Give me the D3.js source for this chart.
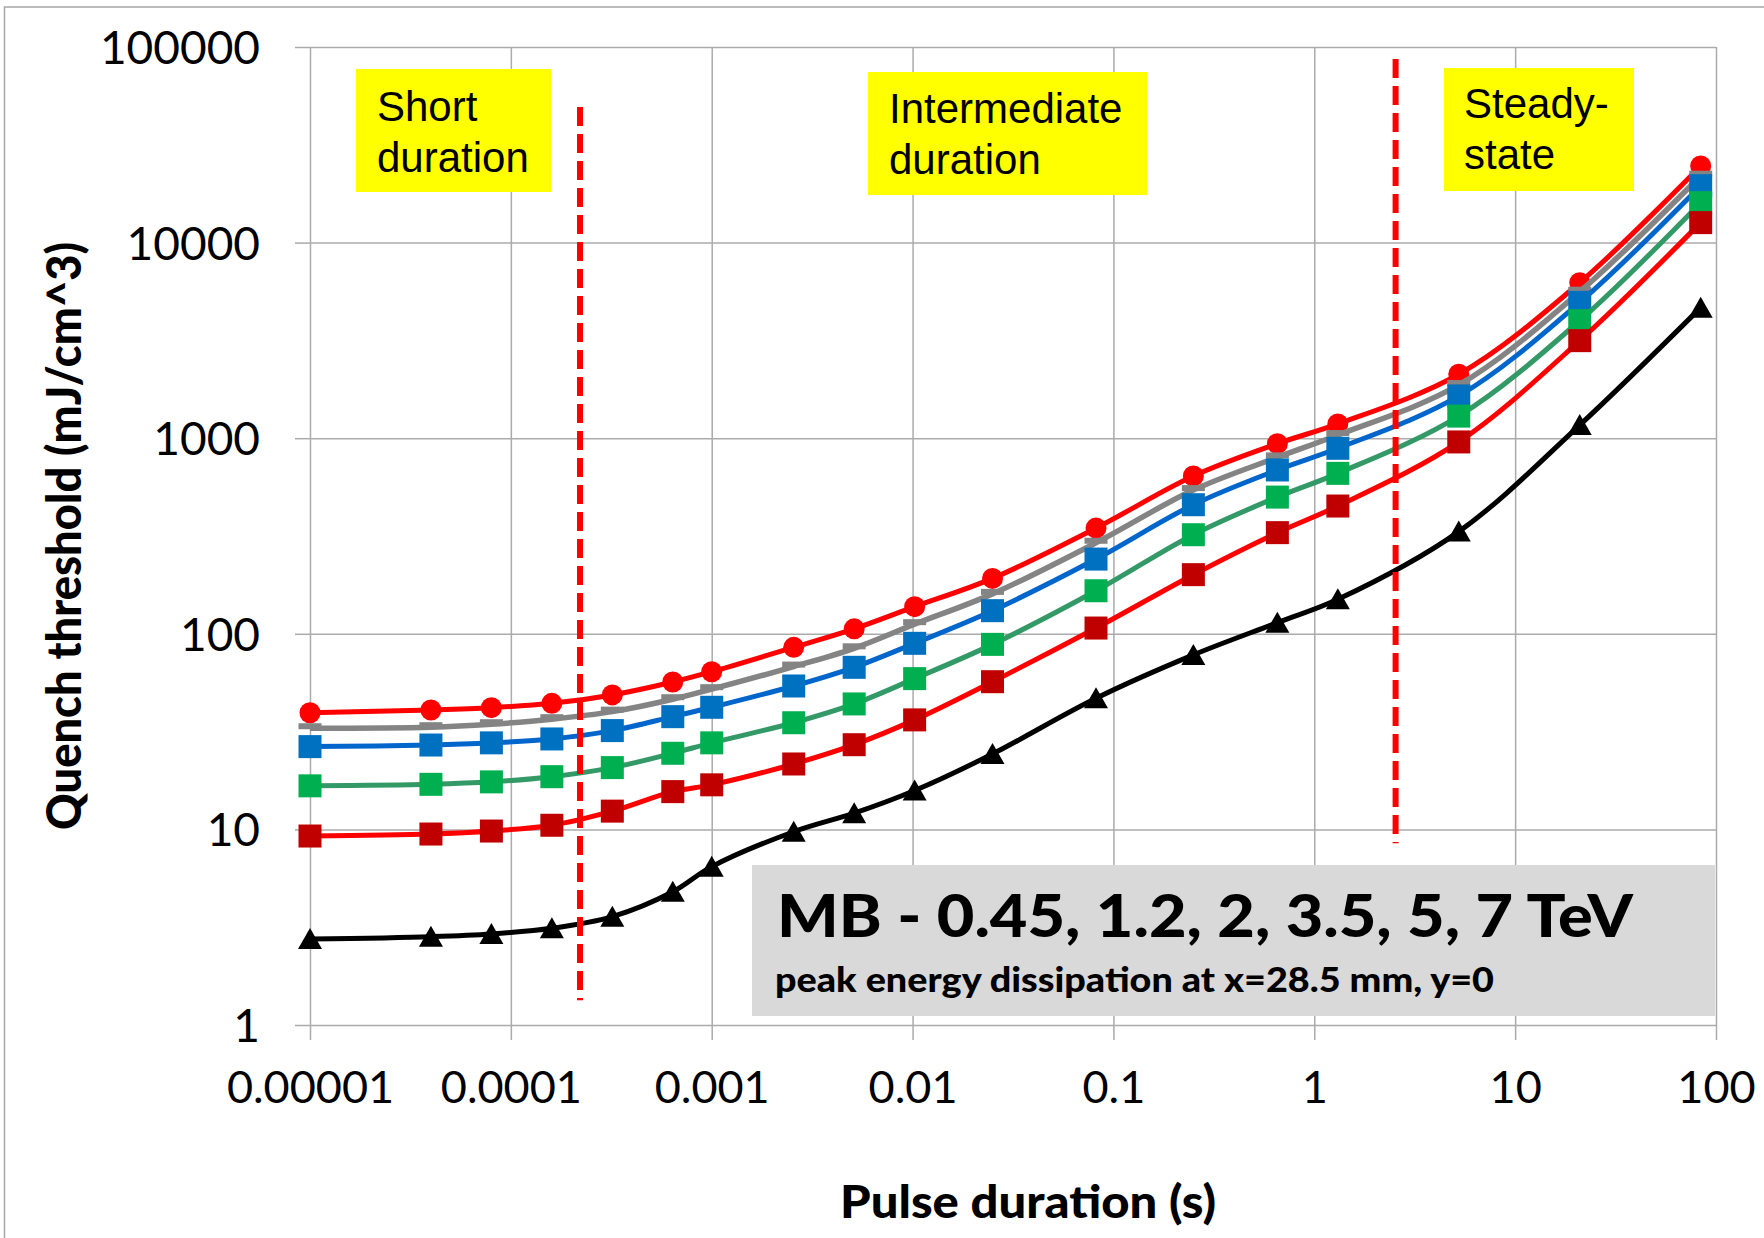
<!DOCTYPE html>
<html>
<head>
<meta charset="utf-8">
<script src="https://cdn.jsdelivr.net/npm/d3@7"></script>
<style>
  body { margin: 0; background: #fff; }
  svg { display: block; }
</style>
</head>
<body>
<script>
// pulse durations (s)
const durations = [1e-5, 4e-5, 8e-5, 1.6e-4, 3.2e-4, 6.4e-4, 1e-3, 2.56e-3, 5.12e-3, 1.024e-2,
    2.5e-2, 8.19e-2, 0.25, 0.655, 1.31, 5.24, 20.97, 83.9];

// quench thresholds (mJ/cm^3), one list per beam energy
const q045 = [39.5, 40.8, 41.9, 44.1, 48.7, 56.7, 64.0, 85.3, 106, 137.6, 192, 347, 641, 938, 1183, 2122, 6240, 24650];
const q12 = [32.9, 33.3, 34.5, 36.6, 40.0, 46.3, 52.1, 68, 84.3, 112, 160, 292, 543, 798, 1038, 1871, 5610, 21980];
const q2 = [26.5, 27.0, 27.7, 29.0, 32.0, 37.7, 42.1, 54.1, 67.4, 89.4, 131.3, 241, 457, 688, 888, 1644, 4950, 19540];
const q35 = [16.7, 17.0, 17.5, 18.6, 20.7, 24.5, 27.7, 35.1, 43.8, 59, 88.3, 166, 321, 500, 661, 1297, 3990, 16000];
const q5 = [9.25, 9.47, 9.81, 10.5, 12.4, 15.6, 16.9, 21.6, 27.1, 36.3, 56.9, 107, 200.6, 329, 450, 957, 3153, 12650];
const q7 = [2.75, 2.83, 2.92, 3.12, 3.58, 4.80, 6.45, 9.73, 12.1, 15.8, 24.3, 46.8, 78, 114, 150, 333, 1167, 4650];

const energies = ['0.45 TeV', '1.2 TeV', '2 TeV', '3.5 TeV', '5 TeV', '7 TeV'];

// axis ticks
const xTicks = [1e-5, 1e-4, 1e-3, 1e-2, 0.1, 1, 10, 100];
const xTickLabels = ['0.00001', '0.0001', '0.001', '0.01', '0.1', '1', '10', '100'];
const yTicks = [1, 10, 100, 1000, 10000, 100000];
const yTickLabels = ['1', '10', '100', '1000', '10000', '100000'];

// regime boundaries: duration, lower and upper threshold of the dashed line
const boundaryX = [2.21e-4, 2.54];
const boundaryLow = [1.34, 8.5];
const boundaryHigh = [49300, 86900];

const regimeLabels = [['Short', 'duration'], ['Intermediate', 'duration'], ['Steady-', 'state']];
const noteTitle = 'MB - 0.45, 1.2, 2, 3.5, 5, 7 TeV';
const noteText = 'peak energy dissipation at x=28.5 mm, y=0';

// layout
const W = 1764, H = 1238;
const dims = { left: 310, right: 1716, top: 47, bottom: 1025 };

const svg = d3.select('body')
    .append('svg')
    .attr('width', W)
    .attr('height', H);

svg.append('rect')
    .attr('width', W).attr('height', H)
    .attr('fill', '#fff');

// chart area border (right / bottom run off the page)
svg.append('rect')
    .attr('x', 4.5).attr('y', 7)
    .attr('width', W + 50).attr('height', H + 50)
    .attr('fill', 'none')
    .attr('stroke', '#a6a6a6')
    .attr('stroke-width', 1.5);

const x = d3.scaleLog()
    .domain([1e-5, 100])
    .range([dims.left, dims.right]);

const y = d3.scaleLog()
    .domain([1, 100000])
    .range([dims.bottom, dims.top]);

// gridlines
const gridColor = '#ababab';

svg.append('g')
    .attr('transform', `translate(0,${dims.bottom})`)
    .call(d3.axisBottom(x).tickValues(xTicks).tickFormat('').tickSizeOuter(0)
        .tickSizeInner(-(dims.bottom - dims.top)))
    .call(g => g.select('.domain').remove())
    .call(g => g.selectAll('line').attr('stroke', gridColor).attr('stroke-width', 1.5));

svg.append('g')
    .attr('transform', `translate(${dims.left},0)`)
    .call(d3.axisLeft(y).tickValues(yTicks).tickFormat('').tickSizeOuter(0)
        .tickSizeInner(-(dims.right - dims.left)))
    .call(g => g.select('.domain').remove())
    .call(g => g.selectAll('line').attr('stroke', gridColor).attr('stroke-width', 1.5));

// axes with tick marks and labels
const tickFont = 'Lato, Carlito, Calibri, sans-serif';

svg.append('g')
    .attr('transform', `translate(0,${dims.bottom})`)
    .call(d3.axisBottom(x).tickValues(xTicks).tickSizeOuter(0).tickSizeInner(15)
        .tickFormat((d, i) => xTickLabels[i]))
    .call(g => g.select('.domain').remove())
    .call(g => g.selectAll('line').attr('stroke', gridColor).attr('stroke-width', 1.5))
    .call(g => g.selectAll('text')
        .attr('y', 78).attr('dy', 0)
        .attr('fill', '#000')
        .style('font-family', tickFont)
        .style('font-size', '45px'));

svg.append('g')
    .attr('transform', `translate(${dims.left},0)`)
    .call(d3.axisLeft(y).tickValues(yTicks).tickSizeOuter(0).tickSizeInner(15)
        .tickFormat((d, i) => yTickLabels[i]))
    .call(g => g.select('.domain').remove())
    .call(g => g.selectAll('line').attr('stroke', gridColor).attr('stroke-width', 1.5))
    .call(g => g.selectAll('text')
        .attr('x', -50).attr('dy', '0.36em')
        .attr('fill', '#000')
        .style('font-family', tickFont)
        .style('font-size', '46px'));

// axis titles
svg.append('text')
    .attr('transform', 'translate(81,536) rotate(-90)')
    .attr('text-anchor', 'middle')
    .attr('textLength', 588)
    .attr('lengthAdjust', 'spacingAndGlyphs')
    .style('font-family', tickFont)
    .style('font-weight', '900')
    .style('font-size', '48px')
    .text('Quench threshold (mJ/cm^3)');

svg.append('text')
    .attr('x', 1028).attr('y', 1218)
    .attr('text-anchor', 'middle')
    .attr('textLength', 376)
    .attr('lengthAdjust', 'spacingAndGlyphs')
    .style('font-family', tickFont)
    .style('font-weight', '900')
    .style('font-size', '45px')
    .text('Pulse duration (s)');

// annotation box
svg.append('rect')
    .attr('x', 752).attr('y', 865)
    .attr('width', 963).attr('height', 151)
    .attr('fill', '#d9d9d9');

svg.append('text')
    .attr('x', 777).attr('y', 937)
    .attr('textLength', 856)
    .attr('lengthAdjust', 'spacingAndGlyphs')
    .style('font-family', tickFont)
    .style('font-weight', '900')
    .style('font-size', '59px')
    .text(noteTitle);

svg.append('text')
    .attr('x', 775).attr('y', 992)
    .attr('textLength', 719)
    .attr('lengthAdjust', 'spacingAndGlyphs')
    .style('font-family', tickFont)
    .style('font-weight', '900')
    .style('font-size', '35px')
    .text(noteText);

// regime labels
const labelBoxes = [
    { x: 356, y: 69, w: 195, h: 123, tx: 377, ty: 121 },
    { x: 868, y: 72, w: 279, h: 123, tx: 889, ty: 123 },
    { x: 1444, y: 68, w: 190, h: 123, tx: 1464, ty: 118 }
];

labelBoxes.forEach((b, i) => {
    svg.append('rect')
        .attr('x', b.x).attr('y', b.y)
        .attr('width', b.w).attr('height', b.h)
        .attr('fill', '#ffff00');
    svg.append('text')
        .style('font-family', '"Liberation Sans", Arial, sans-serif')
        .style('font-size', '42px')
        .selectAll('tspan')
        .data(regimeLabels[i])
        .enter()
        .append('tspan')
        .attr('x', b.tx)
        .attr('y', (d, j) => b.ty + j * 51)
        .text(d => d);
});

// series
const series = [
    { name: energies[0], values: q045, line: '#ff0000', fill: '#ff0000', shape: 'circle', width: 5 },
    { name: energies[1], values: q12, line: '#848484', fill: '#848484', shape: 'dash', width: 5.5 },
    { name: energies[2], values: q2, line: '#0066cc', fill: '#0070c0', shape: 'square', width: 5 },
    { name: energies[3], values: q35, line: '#339966', fill: '#00b050', shape: 'square', width: 5 },
    { name: energies[4], values: q5, line: '#ff0000', fill: '#c00000', shape: 'square', width: 5 },
    { name: energies[5], values: q7, line: '#000000', fill: '#000000', shape: 'triangle', width: 5 }
];

const line = d3.line()
    .x(d => x(d[0]))
    .y(d => y(d[1]))
    .curve(d3.curveCatmullRom.alpha(0.5));

const graph = svg.append('g');

series.forEach(s => {
    const pts = durations.map((t, i) => [t, s.values[i]]);
    const g = graph.append('g').attr('class', 'series');

    g.append('path')
        .datum(pts)
        .attr('d', line)
        .attr('fill', 'none')
        .attr('stroke', s.line)
        .attr('stroke-width', s.width)
        .attr('stroke-linejoin', 'round');

    const marks = g.selectAll('.mark')
        .data(pts)
        .enter()
        .append('g')
        .attr('class', 'mark')
        .attr('transform', d => `translate(${x(d[0])},${y(d[1])})`);

    switch (s.shape) {
        case 'circle':
            marks.append('circle').attr('r', 10.5).attr('fill', s.fill);
            break;
        case 'square':
            marks.append('rect')
                .attr('x', -11.5).attr('y', -11.5)
                .attr('width', 23).attr('height', 23)
                .attr('fill', s.fill);
            break;
        case 'dash':
            marks.append('rect')
                .attr('x', -11.5).attr('y', -5)
                .attr('width', 23).attr('height', 6)
                .attr('fill', s.fill);
            break;
        case 'triangle':
            marks.append('path')
                .attr('d', 'M0,-11L12,10L-12,10Z')
                .attr('fill', s.fill);
            break;
        default:
            break;
    }
});

// regime boundaries
svg.append('g')
    .selectAll('line')
    .data(boundaryX)
    .enter()
    .append('line')
    .attr('x1', d => x(d)).attr('x2', d => x(d))
    .attr('y1', (d, i) => y(boundaryHigh[i]))
    .attr('y2', (d, i) => y(boundaryLow[i]))
    .attr('stroke', '#ff0000')
    .attr('stroke-width', 6)
    .attr('stroke-dasharray', '19,8');
</script>
</body>
</html>
